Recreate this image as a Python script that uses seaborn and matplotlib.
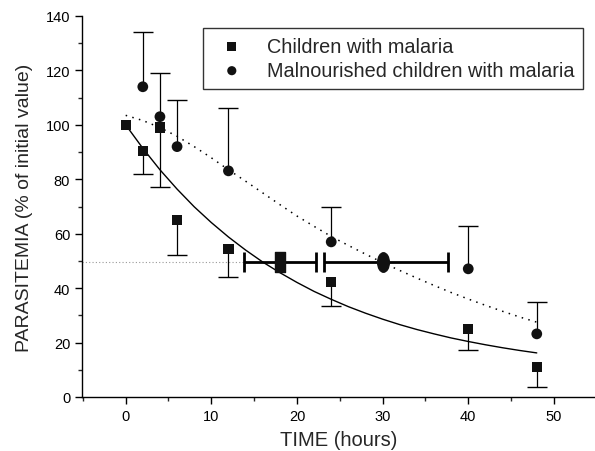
import numpy as np
import pandas as pd
import matplotlib
matplotlib.use("Agg")
import matplotlib.pyplot as plt
import matplotlib.path as mpath
import seaborn as sns

# ---- data ----
sq_time = [0, 2, 4, 6, 12, 24, 40, 48]
sq_value = [100, 90.5, 99, 65, 54.4, 42.3, 25, 11]
sq_err_low = [0, 8.5, 22, 13, 10.4, 8.8, 7.7, 7.3]

ci_time = [2, 4, 6, 12, 24, 40, 48]
ci_value = [114, 103, 92, 83.1, 57, 47.1, 23.2]
ci_err_up = [20, 16, 17, 23, 12.8, 15.8, 11.8]

fit_time = [0, 2, 4, 6, 8, 10, 12, 14, 16, 18, 20, 22, 24, 26, 28, 30, 32, 34, 36, 38, 40, 42, 44, 46, 48]
fit_sq = [100, 91.4, 83.5, 76.4, 69.9, 64.1, 58.8, 54.0, 49.6, 45.7, 42.1, 38.8, 35.9,
          33.2, 30.8, 28.6, 26.6, 24.8, 23.2, 21.7, 20.4, 19.2, 18.1, 17.1, 16.2]
fit_ci = [103.5, 101.6, 99, 95.8, 92, 87.9, 83.5, 79.3, 75, 70.7, 66.5, 62.7, 59, 55.7,
          52.5, 49.4, 46.5, 43.7, 41, 38.4, 36, 33.7, 31.5, 29.4, 27.5]

half_sq = (18.0, 49.6, 13.8, 22.2)   # x, y, low, high
half_ci = (30.0, 49.6, 23.1, 37.6)

labels = ["Children with malaria", "Malnourished children with malaria"]

sns.set_style("ticks")
plt.rcParams["font.family"] = ["Liberation Sans", "DejaVu Sans"]

fig = plt.figure(figsize=(5.95, 4.52), dpi=100)
ax = fig.add_axes([82 / 595, 1 - 398 / 452, 1 - 82 / 595, (398 - 17) / 452])

df_sq = pd.DataFrame({"t": sq_time, "v": sq_value})
df_ci = pd.DataFrame({"t": ci_time, "v": ci_value})
df_fit = pd.DataFrame({"t": fit_time, "sq": fit_sq, "ci": fit_ci})

# reference line at 50%
ax.plot([-5.1, half_sq[2]], [half_sq[1], half_sq[1]], ls=(0, (1, 2)), color="#999999", lw=0.8, zorder=1)

# fitted curves
sns.lineplot(data=df_fit, x="t", y="sq", ax=ax, color="black", lw=1.0, zorder=2)
sns.lineplot(data=df_fit, x="t", y="ci", ax=ax, color="black", lw=1.1, ls=(0, (1, 3.5)), zorder=2)

# one-sided error bars (stem + cap at far end)
sq_end = [v - e for v, e in zip(sq_value, sq_err_low)]
ci_end = [v + e for v, e in zip(ci_value, ci_err_up)]
sq_t_e = [t for t, e in zip(sq_time, sq_err_low) if e > 0]
sq_v_e = [v for v, e in zip(sq_value, sq_err_low) if e > 0]
sq_end_e = [v for v, e in zip(sq_end, sq_err_low) if e > 0]
ax.vlines(sq_t_e, sq_end_e, sq_v_e, color="black", lw=0.9, zorder=3)
ax.vlines(ci_time, ci_value, ci_end, color="black", lw=0.9, zorder=3)
ax.plot(sq_t_e, sq_end_e, ls="none", marker="_", ms=15, mew=1.0, color="black", zorder=3)
ax.plot(ci_time, ci_end, ls="none", marker="_", ms=15, mew=1.0, color="black", zorder=3)

# points
sns.scatterplot(data=df_sq, x="t", y="v", ax=ax, marker="s", s=55, color="#111111",
                edgecolor="none", zorder=4, label=labels[0])
sns.scatterplot(data=df_ci, x="t", y="v", ax=ax, marker="o", s=60, color="#111111",
                edgecolor="none", zorder=4, label=labels[1])

# half-life markers with horizontal bars
for (hx, hy, lo, hi) in (half_sq, half_ci):
    ax.errorbar([hx], [hy], xerr=[[hx - lo], [hi - hx]], fmt="none", ecolor="black",
                elinewidth=2.0, capsize=7, capthick=2.0, zorder=3)
rect = mpath.Path([(-0.55, -1), (0.55, -1), (0.55, 1), (-0.55, 1), (-0.55, -1)],
                  [1, 2, 2, 2, 79])
ell = mpath.Path.unit_circle()
ell = mpath.Path(ell.vertices * np.array([0.6, 1.0]), ell.codes)
ax.plot([half_sq[0]], [half_sq[1]], marker=rect, ms=14, color="#111111", mec="#111111",
        ls="none", zorder=5)
ax.plot([half_ci[0]], [half_ci[1]], marker=ell, ms=14, color="#111111", mec="#111111",
        ls="none", zorder=5)

ax.set_xlim(-5.1, 54.8)
ax.set_ylim(0, 140)
ax.set_xticks([0, 10, 20, 30, 40, 50])
ax.set_xticks([-5, 5, 15, 25, 35, 45], minor=True)
ax.set_yticks(range(0, 141, 20))
ax.set_yticks(range(10, 141, 20), minor=True)
ax.tick_params(axis="both", which="major", length=5, width=1, labelsize=10.5, colors="black")
ax.tick_params(axis="both", which="minor", length=3, width=1)
for s in ("top", "right"):
    ax.spines[s].set_visible(False)
for s in ("left", "bottom"):
    ax.spines[s].set_linewidth(1.0)
    ax.spines[s].set_color("black")

ax.set_xlabel("TIME (hours)", fontsize=14.5, labelpad=5)
ax.set_ylabel("PARASITEMIA (% of initial value)", fontsize=14, labelpad=9)

leg = ax.legend(loc="upper left", bbox_to_anchor=(203 / 595, 1 - 29 / 452),
                bbox_transform=fig.transFigure, frameon=True, fancybox=False,
                fontsize=14.3, handletextpad=0.75, borderpad=0.45, labelspacing=0.25,
                markerscale=0.85, borderaxespad=0, handlelength=2.0)
leg.get_frame().set_edgecolor("black")
leg.get_frame().set_linewidth(1.0)

fig.savefig("out.png", dpi=100)
